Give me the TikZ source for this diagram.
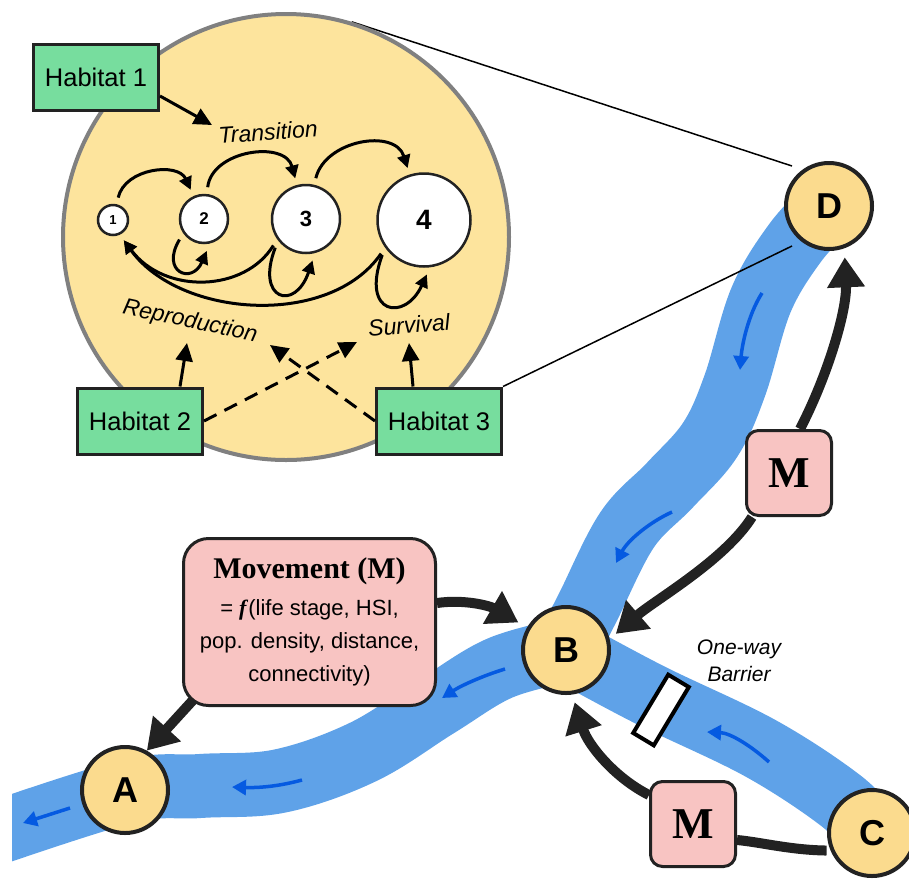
\documentclass[tikz,border=0pt]{standalone}
\usepackage{fontspec}
\setmainfont{Liberation Sans}
\newfontfamily\tnr{Liberation Serif}
\usetikzlibrary{arrows.meta}
\definecolor{bigfill}{RGB}{253,228,157}
\definecolor{nodefill}{RGB}{251,219,142}
\definecolor{habgreen}{RGB}{119,221,158}
\definecolor{pinkbox}{RGB}{248,196,194}
\definecolor{river}{RGB}{95,162,232}
\definecolor{flow}{RGB}{5,90,225}
\definecolor{ink}{RGB}{34,34,34}
\definecolor{ringgray}{RGB}{128,128,128}
\pgfdeclarelayer{riv}
\pgfdeclarelayer{bg}
\pgfsetlayers{riv,bg,main}
\begin{document}
\begin{tikzpicture}[x=1pt,y=-1pt,
  habitat/.style={draw=ink, line width=3pt, fill=habgreen, minimum width=125pt, minimum height=66pt, inner sep=0pt, font=\fontsize{25.5}{30}\selectfont},
  stage/.style={circle, draw=ink, line width=2.5pt, fill=white, inner sep=0pt, outer sep=8pt, font=\bfseries},
  site/.style={circle, draw=ink, line width=4pt, fill=nodefill, minimum size=86pt, inner sep=0pt, font=\fontsize{36}{40}\selectfont\bfseries},
  mbox/.style={rounded corners=12pt, draw=ink, line width=3pt, fill=pinkbox, minimum width=85pt, minimum height=85pt, inner sep=0pt, font=\tnr\bfseries\fontsize{44}{48}\selectfont},
  lab/.style={font=\fontsize{23}{27}\selectfont\itshape, inner sep=0pt},
  harr/.style={line width=3pt, draw=black, -{Triangle[length=18pt,width=17pt]}},
  sarr/.style={line width=3pt, draw=black, -{Triangle[length=13pt,width=13pt]}},
  marr/.style={line width=10pt, draw=ink, -{Triangle[length=30pt,width=36pt]}},
  flowarr/.style={line width=3.5pt, draw=flow, -{Triangle[length=14pt,width=15pt]}},
  riverline/.style={line width=64pt, draw=river},
  zoomline/.style={line width=1.5pt, draw=black}
]
\useasboundingbox (0,0) rectangle (909,879);

% ---------- river ----------
\begin{pgfonlayer}{riv}
\begin{scope}
\clip (12,0) rectangle (909,879);
\draw[riverline] plot[smooth, tension=0.6] coordinates {(-30,842) (125,792) (200,786) (280,781) (363,752) (437,706) (500,668) (566,650)};
\draw[riverline] plot[smooth, tension=0.6] coordinates {(566,650) (588,607) (627,530) (670,485) (710,440) (735,385) (761,300) (795,243) (829,206)};
\draw[riverline] plot[smooth, tension=0.6] coordinates {(566,650) (650,695) (760,748) (840,800) (872,833)};
\end{scope}
\draw[flowarr] (70,808) -- (23,823);
\draw[flowarr] (302,780) .. controls (280,786) and (260,788) .. (232,787);
\draw[flowarr] (505,669) .. controls (485,675) and (462,685) .. (442,698);
\draw[flowarr] (672,512) .. controls (650,522) and (628,540) .. (616,563);
\draw[flowarr] (762,293) .. controls (748,315) and (742,345) .. (740,370);
\draw[flowarr] (769,762) .. controls (750,745) and (730,733) .. (707,732);
\end{pgfonlayer}

% ---------- zoomed circle ----------
\node[circle, draw=ringgray, line width=4pt, fill=bigfill, minimum size=446pt, inner sep=0pt] (bigc) at (286,237) {};

\node[habitat] (h1) at (96,77) {Habitat 1};
\node[habitat] (h2) at (140,421) {Habitat 2};
\node[habitat] (h3) at (439,421) {Habitat 3};

\node[stage, minimum size=30pt, font=\fontsize{13}{15}\selectfont\bfseries] (s1) at (113,220) {1};
\node[stage, minimum size=48pt, font=\fontsize{17}{20}\selectfont\bfseries] (s2) at (204,219) {2};
\node[stage, minimum size=68pt, font=\fontsize{22}{26}\selectfont\bfseries] (s3) at (306,219) {3};
\node[stage, minimum size=93pt, font=\fontsize{28}{32}\selectfont\bfseries] (s4) at (424,220) {4};

\node[lab, rotate=4] (ltr) at (268,132) {Transition};
\node[lab, rotate=-12] (lrep) at (190,322) {Reproduction};
\node[lab, rotate=5] (lsur) at (409,325) {Survival};

% transitions
\draw[sarr] (s1) .. controls (125,168) and (178,162) .. (s2);
\draw[sarr] (s2) .. controls (212,150) and (285,140) .. (s3);
\draw[sarr] (s3) .. controls (325,140) and (395,128) .. (s4);
% survival loops
\draw[sarr] (s2.-140) .. controls (160,272) and (192,285) .. (s2.-85);
\draw[sarr] (s3.-137) .. controls (255,300) and (295,312) .. (s3.-81);
\draw[sarr] (s4.-140) .. controls (360,315) and (405,322) .. (s4.-87);
% reproduction
\draw[sarr] (s3.-141) .. controls (245,292) and (165,295) .. (s1.-62);
\draw[sarr] (s4.-142) .. controls (330,328) and (180,318) .. (s1.-62);

% habitat effects
\coordinate (t1) at (212,125);
\coordinate (t2) at (187,343);
\coordinate (t3) at (409,343);
\coordinate (t4) at (357,342);
\coordinate (t5) at (270,345);
\draw[harr] ([yshift=-19pt]h1.east) -- (t1);
\draw[harr] ([xshift=40pt]h2.north) -- (t2);
\draw[harr] ([xshift=-26pt]h3.north) -- (t3);
\draw[harr, dash pattern=on 14pt off 9pt] (h2.east) -- (t4);
\draw[harr, dash pattern=on 14pt off 9pt] (h3.west) -- (t5);

% ---------- sites ----------
\node[site] (nA) at (125,790) {A};
\node[site] (nB) at (566,650) {B};
\node[site] (nC) at (872,833) {C};
\node[site] (nD) at (829,206) {D};

\node[mbox] (m1) at (789,473) {M};
\node[mbox] (m2) at (693,824) {M};

\node[draw=ink, line width=3pt, fill=pinkbox, rounded corners=25pt, minimum width=252pt, minimum height=167pt, align=center, inner sep=0pt, font=\fontsize{22}{33}\selectfont] (mov) at (309.5,622)
 {{\tnr\bfseries\fontsize{30}{36}\selectfont Movement (M)}\\[4pt]
  = {\tnr\bfseries\itshape f\/}(life stage, HSI,\\
  pop. density, distance,\\
  connectivity)};

\node[draw=black, line width=4pt, fill=white, minimum width=24pt, minimum height=68pt, inner sep=0pt, rotate=-31] (bar) at (661,710) {};
\node[font=\fontsize{21}{27}\selectfont\itshape, align=center, inner sep=0pt] (lbar) at (739,661) {One-way\\Barrier};

% zoom lines
\coordinate (z1) at (792,166);
\coordinate (z2) at (792,246);

\begin{pgfonlayer}{bg}
\draw[zoomline] (bigc.73.6) -- (z1);
\draw[zoomline] (h3.north east) -- (z2);
\draw[marr, shorten >=9pt] ([xshift=11pt]m1.north) .. controls (828,375) and (847,310) .. (nD.-70);
\draw[marr, shorten >=8pt] ([xshift=-37pt]m1.south) .. controls (725,560) and (655,600) .. (nB.14);
\draw[marr, shorten >=8pt] ([yshift=29pt]m2.west) .. controls (615,778) and (588,745) .. (nB.-82);
\draw[line width=10pt, draw=ink, shorten <=4pt] (nC.203) .. controls (790,850) and (760,842) .. ([yshift=-16pt]m2.east);
\draw[marr, shorten >=10pt] ([yshift=19pt]mov.east) .. controls (465,599) and (490,606) .. (nB.150);
\draw[marr] ([shift={(12pt,8pt)}]mov.south west) -- (nA.61);
\end{pgfonlayer}
\end{tikzpicture}
\end{document}
